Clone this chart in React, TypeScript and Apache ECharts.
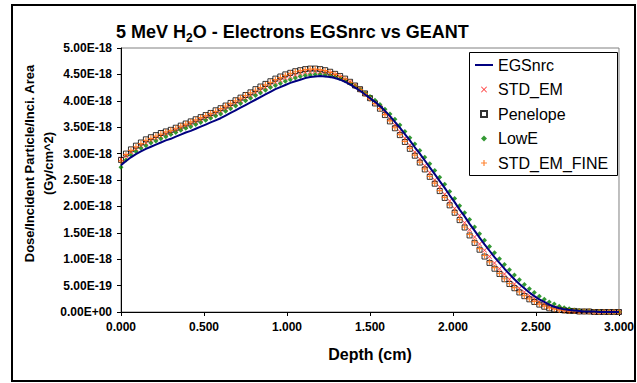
import React, { useEffect, useRef } from "react";
import * as echarts from "echarts";

// Depth (cm)
const DEPTH = [
  0.0, 0.03, 0.06, 0.09, 0.12, 0.15, 0.18, 0.21, 0.24, 0.27,
  0.3, 0.33, 0.36, 0.39, 0.42, 0.45, 0.48, 0.51, 0.54, 0.57,
  0.6, 0.63, 0.66, 0.69, 0.72, 0.75, 0.78, 0.81, 0.84, 0.87,
  0.9, 0.93, 0.96, 0.99, 1.02, 1.05, 1.08, 1.11, 1.14, 1.17,
  1.2, 1.23, 1.26, 1.29, 1.32, 1.35, 1.38, 1.41, 1.44, 1.47,
  1.5, 1.53, 1.56, 1.59, 1.62, 1.65, 1.68, 1.71, 1.74, 1.77,
  1.8, 1.83, 1.86, 1.89, 1.92, 1.95, 1.98, 2.01, 2.04, 2.07,
  2.1, 2.13, 2.16, 2.19, 2.22, 2.25, 2.28, 2.31, 2.34, 2.37,
  2.4, 2.43, 2.46, 2.49, 2.52, 2.55, 2.58, 2.61, 2.64, 2.67,
  2.7, 2.73, 2.76, 2.79, 2.82, 2.85, 2.88, 2.91, 2.94, 2.97,
  3.0,
];

// Dose values in units of 1E-18 Gy/cm^2
const EGSNRC = [
  2.78, 2.86, 2.93, 2.99, 3.04, 3.09, 3.13, 3.17, 3.21, 3.25,
  3.28, 3.32, 3.36, 3.40, 3.43, 3.47, 3.51, 3.55, 3.59, 3.63,
  3.67, 3.72, 3.77, 3.82, 3.87, 3.92, 3.97, 4.02, 4.07, 4.12,
  4.17, 4.22, 4.26, 4.30, 4.34, 4.37, 4.40, 4.43, 4.45, 4.46,
  4.47, 4.46, 4.45, 4.43, 4.40, 4.36, 4.31, 4.25, 4.19, 4.12,
  4.05, 3.98, 3.90, 3.81, 3.71, 3.60, 3.49, 3.37, 3.25, 3.12,
  3.00, 2.87, 2.74, 2.61, 2.48, 2.35, 2.21, 2.08, 1.94, 1.81,
  1.67, 1.54, 1.41, 1.28, 1.16, 1.04, 0.93, 0.82, 0.72, 0.62,
  0.53, 0.45, 0.37, 0.30, 0.24, 0.19, 0.14, 0.10, 0.07, 0.05,
  0.04, 0.03, 0.02, 0.01, 0.01, 0.01, 0.0, 0.0, 0.0, 0.0,
  0.0,
];

const STD_EM = [
  2.90, 2.96, 3.03, 3.09, 3.15, 3.20, 3.25, 3.29, 3.33, 3.37,
  3.40, 3.44, 3.48, 3.52, 3.56, 3.60, 3.64, 3.68, 3.72, 3.76,
  3.80, 3.85, 3.90, 3.95, 4.00, 4.05, 4.10, 4.15, 4.20, 4.25,
  4.30, 4.35, 4.39, 4.43, 4.46, 4.49, 4.52, 4.54, 4.55, 4.56,
  4.55, 4.54, 4.52, 4.49, 4.45, 4.40, 4.35, 4.29, 4.22, 4.14,
  4.06, 3.97, 3.88, 3.77, 3.66, 3.54, 3.42, 3.29, 3.16, 3.03,
  2.90, 2.77, 2.64, 2.50, 2.37, 2.23, 2.10, 1.96, 1.83, 1.69,
  1.56, 1.42, 1.29, 1.17, 1.05, 0.93, 0.82, 0.72, 0.62, 0.53,
  0.45, 0.38, 0.31, 0.25, 0.19, 0.15, 0.11, 0.08, 0.06, 0.04,
  0.03, 0.02, 0.01, 0.01, 0.01, 0.0, 0.0, 0.0, 0.0, 0.0,
  0.0,
];

const PENELOPE = [
  2.88, 3.00, 3.08, 3.15, 3.21, 3.27, 3.31, 3.35, 3.39, 3.42,
  3.45, 3.49, 3.53, 3.57, 3.61, 3.65, 3.69, 3.73, 3.77, 3.82,
  3.86, 3.91, 3.96, 4.01, 4.06, 4.11, 4.16, 4.22, 4.27, 4.32,
  4.37, 4.42, 4.46, 4.50, 4.53, 4.56, 4.58, 4.60, 4.61, 4.61,
  4.60, 4.58, 4.55, 4.51, 4.47, 4.42, 4.36, 4.29, 4.22, 4.14,
  4.05, 3.95, 3.85, 3.73, 3.61, 3.48, 3.35, 3.22, 3.09, 2.96,
  2.83, 2.70, 2.56, 2.43, 2.29, 2.16, 2.02, 1.88, 1.74, 1.60,
  1.45, 1.31, 1.18, 1.05, 0.93, 0.82, 0.72, 0.62, 0.53, 0.45,
  0.37, 0.30, 0.24, 0.19, 0.14, 0.10, 0.07, 0.05, 0.04, 0.03,
  0.02, 0.02, 0.01, 0.01, 0.01, 0.0, 0.0, 0.0, 0.0, 0.0,
  0.0,
];

const LOWE = [
  2.74, 2.88, 2.97, 3.04, 3.10, 3.15, 3.20, 3.24, 3.28, 3.32,
  3.36, 3.40, 3.44, 3.48, 3.51, 3.55, 3.59, 3.63, 3.67, 3.71,
  3.75, 3.80, 3.85, 3.90, 3.95, 4.00, 4.05, 4.10, 4.15, 4.20,
  4.25, 4.29, 4.33, 4.37, 4.40, 4.43, 4.46, 4.48, 4.49, 4.50,
  4.50, 4.49, 4.47, 4.45, 4.42, 4.38, 4.33, 4.28, 4.22, 4.15,
  4.08, 4.01, 3.93, 3.84, 3.75, 3.65, 3.54, 3.42, 3.30, 3.18,
  3.06, 2.93, 2.81, 2.68, 2.55, 2.42, 2.28, 2.15, 2.01, 1.88,
  1.75, 1.61, 1.48, 1.36, 1.24, 1.12, 1.01, 0.90, 0.80, 0.70,
  0.61, 0.52, 0.44, 0.37, 0.30, 0.24, 0.19, 0.15, 0.11, 0.08,
  0.06, 0.04, 0.03, 0.02, 0.02, 0.01, 0.01, 0.0, 0.0, 0.0,
  0.0,
];

const STD_EM_FINE = [
  2.86, 2.98, 3.06, 3.13, 3.19, 3.25, 3.29, 3.33, 3.37, 3.41,
  3.44, 3.48, 3.52, 3.56, 3.60, 3.64, 3.68, 3.72, 3.76, 3.80,
  3.85, 3.90, 3.95, 4.00, 4.05, 4.10, 4.15, 4.20, 4.25, 4.30,
  4.35, 4.40, 4.44, 4.48, 4.52, 4.55, 4.57, 4.59, 4.60, 4.60,
  4.59, 4.57, 4.54, 4.50, 4.46, 4.41, 4.35, 4.28, 4.21, 4.13,
  4.04, 3.95, 3.85, 3.74, 3.62, 3.49, 3.36, 3.23, 3.10, 2.97,
  2.84, 2.71, 2.57, 2.44, 2.30, 2.17, 2.03, 1.89, 1.75, 1.61,
  1.47, 1.33, 1.20, 1.07, 0.95, 0.84, 0.73, 0.63, 0.54, 0.46,
  0.38, 0.31, 0.25, 0.20, 0.15, 0.11, 0.08, 0.06, 0.04, 0.03,
  0.02, 0.02, 0.01, 0.01, 0.01, 0.0, 0.0, 0.0, 0.0, 0.0,
  0.0,
];

const SERIES_NAMES = ["EGSnrc", "STD_EM", "Penelope", "LowE", "STD_EM_FINE"];
const UNIT = 1e-18;
const FONT = 'Arial, "Liberation Sans", Helvetica, sans-serif';

function fmtSci(v: number): string {
  const s = (v * UNIT).toExponential(2);
  const [m, e] = s.split("e");
  const n = parseInt(e, 10);
  return `${m}E${n < 0 ? "-" : "+"}${String(Math.abs(n)).padStart(2, "0")}`;
}

const pairs = (arr: number[]) => DEPTH.map((d, i) => [d, arr[i]]);

const X_SHAPE = "path://M0,1L1,0L5,4L9,0L10,1L6,5L10,9L9,10L5,6L1,10L0,9L4,5Z";
const PLUS_SHAPE = "path://M4,0H6V4H10V6H6V10H4V6H0V4H4Z";
const SQUARE_SHAPE = "path://M0,0H10V10H0Z";
const DIAMOND_SHAPE = "path://M5,0L10,5L5,10L0,5Z";
const LINE_SHAPE = "path://M0,0H18V2H0Z";

export default function App() {
  const ref = useRef<HTMLDivElement>(null);
  useEffect(() => {
    if (!ref.current) return;
    const chart = echarts.init(ref.current, undefined, { renderer: "svg" });
    chart.setOption({
      animation: false,
      backgroundColor: "#ffffff",
      title: {
        text: "{a|5 MeV H}{s|2}{a|O - Electrons EGSnrc vs GEANT}",
        left: 116,
        top: 20,
        padding: 0,
        textStyle: {
          rich: {
            a: { fontSize: 18, fontWeight: "bold", fontFamily: FONT, color: "#000", lineHeight: 24, verticalAlign: "middle" },
            s: { fontSize: 12, fontWeight: "bold", fontFamily: FONT, color: "#000", lineHeight: 12, verticalAlign: "bottom" },
          },
        },
      },
      grid: {
        left: 121,
        right: 17,
        top: 48,
        bottom: 71,
        show: true,
        borderColor: "#808080",
        borderWidth: 1,
        backgroundColor: "transparent",
      },
      legend: {
        orient: "vertical",
        left: 475,
        top: 57,
        itemWidth: 18,
        itemHeight: 6,
        itemGap: 8.5,
        padding: 0,
        textStyle: { fontSize: 16, fontFamily: FONT, color: "#000", lineHeight: 16 },
        data: [
          { name: SERIES_NAMES[0], icon: LINE_SHAPE, itemStyle: { color: "#000080" } },
          { name: SERIES_NAMES[1] },
          { name: SERIES_NAMES[2], icon: SQUARE_SHAPE },
          { name: SERIES_NAMES[3], icon: DIAMOND_SHAPE },
          { name: SERIES_NAMES[4] },
        ],
      },
      xAxis: {
        type: "value",
        min: 0,
        max: 3,
        interval: 0.5,
        axisLine: { lineStyle: { color: "#000", width: 1 } },
        axisTick: { length: 4, lineStyle: { color: "#000" } },
        splitLine: { show: false },
        axisLabel: {
          formatter: (v: number) => v.toFixed(3),
          fontSize: 12,
          fontWeight: "bold",
          fontFamily: FONT,
          color: "#000",
          margin: 9,
          showMinLabel: true,
          showMaxLabel: true,
        },
        name: "Depth (cm)",
        nameLocation: "middle",
        nameGap: 34,
        nameTextStyle: { fontSize: 16, fontWeight: "bold", fontFamily: FONT, color: "#000" },
      },
      yAxis: {
        type: "value",
        min: 0,
        max: 5,
        interval: 0.5,
        axisLine: { show: true, lineStyle: { color: "#000", width: 1 } },
        axisTick: { show: true, length: 4, lineStyle: { color: "#000" } },
        splitLine: { show: false },
        axisLabel: {
          formatter: fmtSci,
          fontSize: 12,
          fontWeight: "bold",
          fontFamily: FONT,
          color: "#000",
          margin: 9,
        },
      },
      graphic: [
        {
          type: "rect",
          silent: true,
          shape: { x: 12, y: 5, width: 623, height: 376 },
          style: { fill: "none", stroke: "#000", lineWidth: 2 },
        },
        {
          type: "rect",
          silent: true,
          shape: { x: 469.5, y: 52.5, width: 148, height: 123 },
          style: { fill: "#fff", stroke: "#000", lineWidth: 1 },
        },
        {
          type: "text",
          silent: true,
          x: 38.5,
          y: 163.5,
          rotation: Math.PI / 2,
          style: {
            text: "Dose/Incident Particle/Inci. Area\n(Gy/cm^2)",
            fontSize: 13,
            fontWeight: "bold",
            fontFamily: FONT,
            fill: "#000",
            align: "center",
            verticalAlign: "middle",
            lineHeight: 19,
          },
        },
      ],
      series: [
        {
          name: "EGSnrc",
          type: "line",
          data: pairs(EGSNRC),
          showSymbol: false,
          symbol: "none",
          lineStyle: { color: "#000080", width: 2 },
          itemStyle: { color: "#000080" },
        },
        {
          name: "STD_EM",
          type: "scatter",
          data: pairs(STD_EM),
          symbol: X_SHAPE,
          symbolSize: 5,
          itemStyle: { color: "#ff0000" },
        },
        {
          name: "Penelope",
          type: "scatter",
          data: pairs(PENELOPE),
          symbol: "rect",
          symbolSize: 5,
          itemStyle: { color: "rgba(255,255,255,0)", borderColor: "#000", borderWidth: 1 },
        },
        {
          name: "LowE",
          type: "scatter",
          data: pairs(LOWE),
          symbol: "diamond",
          symbolSize: 5,
          itemStyle: { color: "#008000" },
        },
        {
          name: "STD_EM_FINE",
          type: "scatter",
          data: pairs(STD_EM_FINE),
          symbol: PLUS_SHAPE,
          symbolSize: 6,
          itemStyle: { color: "#ff6600" },
        },
      ],
    });
    return () => chart.dispose();
  }, []);
  return (
    <div
      ref={ref}
      style={{ position: "absolute", left: 0, top: 0, width: 637, height: 383 }}
    />
  );
}
